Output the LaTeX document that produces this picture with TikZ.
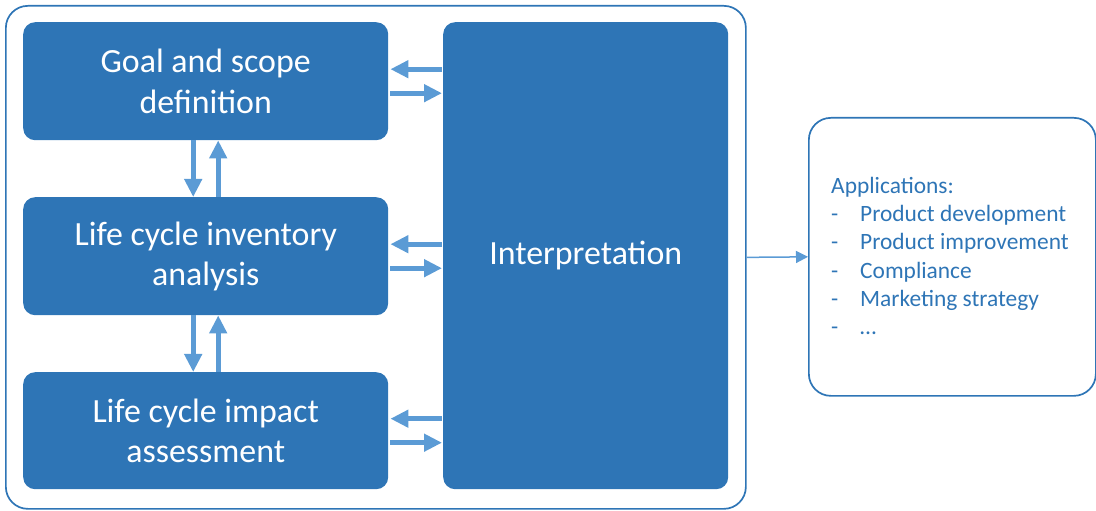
\documentclass[tikz,border=0pt]{standalone}
\usepackage{fontspec}
\setmainfont{Carlito}
\usetikzlibrary{arrows.meta,calc,positioning}
\definecolor{stageblue}{HTML}{2E75B6}
\definecolor{flowblue}{HTML}{5B9BD5}
\newcommand{\appgap}{29bp}
\tikzset{
    stagesty/.style={fill=stageblue,rectangle,rounded corners=12bp,text=white,align=center,
                     font=\fontsize{34}{40.5}\selectfont,inner sep=0pt,anchor=north west},
    framesty/.style={draw=stageblue,line width=1.7bp,rectangle,rounded corners=22bp,inner sep=0pt,anchor=north west},
    flowsty/.style={draw=flowblue,line width=5bp,-{Triangle[length=18bp,width=17bp]}},
    linksty/.style={draw=flowblue,line width=1.5bp,-{Triangle[length=12bp,width=12bp]}},
    appsty/.style={text=stageblue,align=left,font=\fontsize{23.5}{28.3}\selectfont,inner sep=0pt,anchor=north west},
}

\begin{document}
\begin{tikzpicture}[x=1bp,y=-1bp]
\useasboundingbox (0,0) rectangle (1096,511);

% outer frame and applications box
\node[framesty,minimum width=740bp,minimum height=503bp] (lca) at (5,5) {};
\node[framesty,minimum width=287bp,minimum height=278bp] (apps) at (808,117) {};

% phases
\node[stagesty,minimum width=365bp,minimum height=118bp] (goal) at (23,22) {Goal and scope\\definition};
\node[stagesty,minimum width=365bp,minimum height=118bp] (lci) at (23,197) {Life cycle inventory\\analysis};
\node[stagesty,minimum width=365bp,minimum height=117bp] (lcia) at (23,372) {Life cycle impact\\assessment};
\node[stagesty,minimum width=285bp,minimum height=467bp] (interp) at (443,22) {\raisebox{-4bp}{Interpretation}};

% applications list
\node[appsty] (applist) at (831,177) {Applications:\\
  \makebox[\appgap][l]{-}Product development\\
  \makebox[\appgap][l]{-}Product improvement\\
  \makebox[\appgap][l]{-}Compliance\\
  \makebox[\appgap][l]{-}Marketing strategy\\
  \makebox[\appgap][l]{-}\dots};

% phase <-> interpretation
\foreach \ph in {goal,lci,lcia}{
  \draw[flowsty] ($(\ph.east -| interp.west)+(-1bp,12bp)$) -- ($(\ph.east)+(2bp,12bp)$);
  \draw[flowsty] ($(\ph.east)+(2bp,-12bp)$) -- ($(\ph.east -| interp.west)+(-1bp,-12bp)$);
}

% phase <-> phase
\draw[flowsty] ($(goal.south)+(-12.5bp,0)$) -- ($(lci.north)+(-12.5bp,0)$);
\draw[flowsty] ($(lci.north)+(12.5bp,0)$) -- ($(goal.south)+(12.5bp,0)$);
\draw[flowsty] ($(lci.south)+(-12.5bp,0)$) -- ($(lcia.north)+(-12.5bp,0)$);
\draw[flowsty] ($(lcia.north)+(12.5bp,0)$) -- ($(lci.south)+(12.5bp,0)$);

% frame -> applications
\draw[linksty] (lca.east) -- (apps.west);
\end{tikzpicture}
\end{document}
